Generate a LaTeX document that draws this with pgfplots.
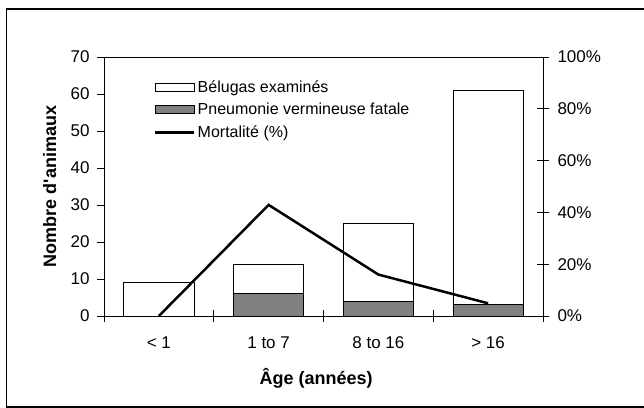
\documentclass[border=0pt]{standalone}
\usepackage{fontspec}
\setmainfont{Liberation Sans}
\usepackage{pgfplots}
\pgfplotsset{compat=1.18}
\pgfplotsset{
  barleg/.style={legend image code/.code={\draw[##1] (0bp,-4bp) rectangle (39bp,4bp);}},
  linleg/.style={legend image code/.code={\draw[##1] (0bp,0bp) -- (39bp,0bp);}},
}
\begin{document}
\begin{tikzpicture}
\useasboundingbox (0bp,0bp) rectangle (644bp,408bp);
\draw[line width=1.6bp] (650bp,1.2bp) -- (6.5bp,1.2bp) -- (6.5bp,399bp) -- (650bp,399bp);
\begin{axis}[
  at={(104bp,92bp)}, anchor=south west,
  scale only axis, width=439bp, height=259bp,
  xmin=0, xmax=4, ymin=0, ymax=70,
  xtick={0,1,2,3,4},
  xticklabels={{< 1},{1 to 7},{8 to 16},{> 16}},
  x tick label as interval,
  ytick={0,10,...,70},
  tick align=outside,
  major tick length=7bp,
  x tick style={draw=none},
  xtick pos=bottom, ytick pos=left,
  axis line style={line width=0.8bp},
  tick style={line width=0.8bp, black},
  /pgf/number format/assume math mode=true,
  tick label style={font=\fontsize{17bp}{20bp}\selectfont},
  x tick label style={yshift=-10bp},
  y tick label style={xshift=-4bp},
  ylabel={\textbf{Nombre d\textquotesingle animaux}},
  xlabel={\textbf{Âge (années)}},
  label style={font=\fontsize{18bp}{21bp}\selectfont},
  ylabel style={at={(axis description cs:-0.124,0.5)}, anchor=center},
  xlabel style={at={(axis description cs:0.483,-0.24)}, anchor=center},
  legend style={at={(rel axis cs:0.114,0.918)}, anchor=north west, draw=none, fill=none,
    inner sep=0pt, row sep=5.5bp, font=\fontsize{16bp}{19bp}\selectfont},
  legend cell align=left,
]
\addplot[ybar, bar width=0.64, bar shift=0, fill=white, draw=black, line width=0.8bp, barleg]
  coordinates {(0.5,9) (1.5,14) (2.5,25) (3.5,61)};
\addlegendentry{Bélugas examinés}
\addplot[ybar, bar width=0.64, bar shift=0, fill=gray, draw=black, line width=0.8bp, barleg]
  coordinates {(0.5,0) (1.5,6) (2.5,4) (3.5,3)};
\addlegendentry{Pneumonie vermineuse fatale}
\addlegendimage{linleg, black, line width=2.5bp}
\addlegendentry{Mortalité (\%)}
\end{axis}
\begin{axis}[
  at={(104bp,92bp)}, anchor=south west,
  scale only axis, width=439bp, height=259bp,
  xmin=0, xmax=4, ymin=0, ymax=100,
  axis x line*=bottom,
  axis y line*=right,
  xtick={0,1,2,3,4}, xticklabels={},
  ytick={0,20,...,100},
  yticklabel={\pgfmathprintnumber{\tick}\%},
  tick align=center,
  major tick length=12bp,
  axis line style={line width=0.8bp, -},
  tick style={line width=0.8bp, black},
  /pgf/number format/assume math mode=true,
  tick label style={font=\fontsize{17bp}{20bp}\selectfont},
  y tick label style={xshift=5bp},
]
\addplot[black, line width=2.5bp, mark=none] coordinates {(0.5,0) (1.5,42.9) (2.5,16) (3.5,4.9)};
\end{axis}
\end{tikzpicture}
\end{document}
